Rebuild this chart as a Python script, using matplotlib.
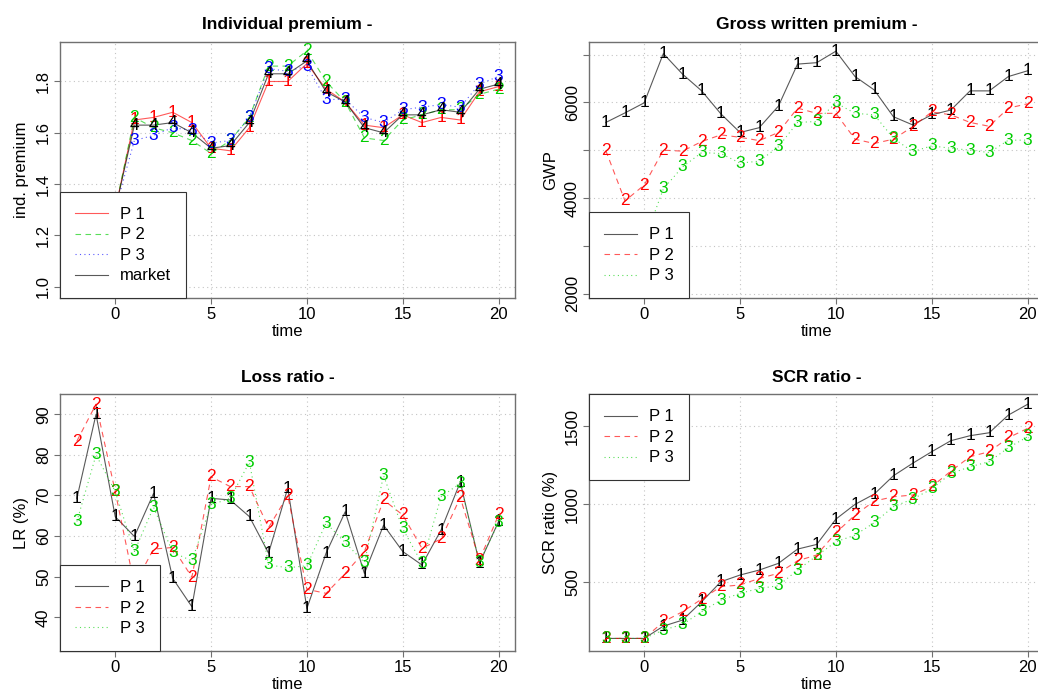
import matplotlib.pyplot as plt

plt.rcParams["font.family"] = ["Liberation Sans", "DejaVu Sans"]

time = list(range(-2, 21))

# individual premium
ip_p1 = [1.00, 1.00, 1.30, 1.65, 1.66, 1.68, 1.64, 1.54, 1.53, 1.62, 1.80, 1.80, 1.87,
         1.77, 1.72, 1.63, 1.62, 1.67, 1.64, 1.66, 1.65, 1.76, 1.78]
ip_p2 = [1.00, 1.00, 1.30, 1.66, 1.62, 1.60, 1.57, 1.52, 1.57, 1.66, 1.86, 1.86, 1.92,
         1.80, 1.72, 1.58, 1.57, 1.65, 1.67, 1.69, 1.69, 1.75, 1.77]
ip_p3 = [1.00, 1.00, 1.30, 1.57, 1.59, 1.62, 1.61, 1.56, 1.57, 1.66, 1.85, 1.84, 1.86,
         1.73, 1.73, 1.66, 1.64, 1.69, 1.70, 1.71, 1.70, 1.79, 1.82]
ip_mkt = [1.00, 1.00, 1.30, 1.63, 1.63, 1.64, 1.60, 1.54, 1.55, 1.64, 1.83, 1.83, 1.88,
          1.76, 1.72, 1.62, 1.60, 1.67, 1.67, 1.69, 1.68, 1.77, 1.79]

# gross written premium
gwp_p1 = [5580, 5780, 5990, 7020, 6590, 6240, 5760, 5370, 5470, 5920, 6800, 6830, 7070,
          6540, 6260, 5700, 5530, 5740, 5840, 6240, 6240, 6540, 6660]
gwp_p2 = [4990, 3940, 4270, 5000, 4980, 5180, 5320, 5270, 5200, 5370, 5880, 5770, 5770,
          5230, 5140, 5230, 5490, 5800, 5740, 5580, 5500, 5880, 5970]
gwp_p3 = [2100, 2500, 3100, 4190, 4650, 4950, 4930, 4730, 4770, 5070, 5580, 5600, 5990,
          5770, 5740, 5250, 4970, 5090, 5040, 5000, 4950, 5210, 5210]

# loss ratio (%)
lr_p1 = [69.3, 90.0, 64.8, 59.9, 70.5, 49.6, 42.6, 69.3, 68.9, 64.8, 55.8, 71.8, 42.2,
         55.8, 66.0, 50.8, 62.7, 56.2, 52.9, 61.5, 73.3, 53.3, 63.6]
lr_p2 = [83.4, 92.5, 71.0, 48.0, 56.8, 57.2, 49.9, 74.6, 72.2, 72.2, 62.1, 70.0, 46.9,
         45.9, 50.8, 56.2, 68.9, 65.2, 57.0, 59.3, 69.5, 54.1, 65.2]
lr_p3 = [63.6, 80.0, 71.0, 56.2, 67.1, 56.0, 53.9, 67.7, 69.3, 78.2, 52.9, 52.2, 52.7,
         63.2, 58.4, 53.5, 74.9, 61.8, 53.3, 69.7, 73.0, 53.5, 63.4]

# SCR ratio (%)
scr_p1 = [135, 135, 135, 214, 253, 371, 500, 543, 575, 618, 710, 740, 903,
          998, 1064, 1182, 1262, 1337, 1408, 1440, 1459, 1573, 1642]
scr_p2 = [135, 135, 135, 242, 307, 388, 468, 479, 521, 554, 635, 672, 815,
          929, 1019, 1047, 1058, 1112, 1212, 1305, 1337, 1427, 1487]
scr_p3 = [135, 135, 135, 189, 225, 307, 382, 425, 457, 474, 575, 667, 757,
          800, 880, 983, 1032, 1097, 1197, 1240, 1273, 1363, 1433]

RED, GREEN, BLUE, BLACK = "#FF0000", "#00CD00", "#0000FF", "#000000"
SOLID, DASHED, DOTTED = "-", (0, (5, 4)), (0, (1, 3))
FS = 12
MARK_FS = 12.5

fig = plt.figure(figsize=(10.38, 6.93), dpi=100)


def panel(rect, title, ylabel, series, ylim, yticks, yticklabels, legend_loc):
    ax = fig.add_axes(rect)
    ax.set_xlim(-2.88, 20.88)
    ax.set_ylim(*ylim)
    ax.set_xticks([0, 5, 10, 15, 20])
    ax.set_yticks(yticks)
    ax.set_yticklabels(yticklabels, rotation=90, va="center")
    ax.grid(True, color="#c4c4c4", linestyle=(0, (1, 3)), linewidth=0.8)
    ax.set_axisbelow(True)
    for sp in ax.spines.values():
        sp.set_color("#707070")
        sp.set_linewidth(1.0)
    ax.tick_params(direction="out", length=4, width=0.8, color="#707070",
                   labelsize=FS, pad=2.5)
    for k, (label, values, color, style) in enumerate(series):
        ax.plot(time, values, color=color, linestyle=style, linewidth=0.8,
                alpha=0.65, label=label, zorder=2)
        for t, v in zip(time, values):
            ax.text(t, v, str(k + 1), color=color, fontsize=MARK_FS, ha="center",
                    va="center", clip_on=True, zorder=3)
    ax.set_title(title, fontweight="bold", fontsize=12.5, pad=9)
    ax.set_xlabel("time", fontsize=FS, labelpad=1.5)
    ax.set_ylabel(ylabel, fontsize=FS, labelpad=5)
    leg = ax.legend(loc=legend_loc, borderaxespad=0, fancybox=False, framealpha=1,
                    edgecolor="#333333", fontsize=FS, handlelength=2.0,
                    handletextpad=0.7, borderpad=0.9, labelspacing=0.33)
    leg.get_frame().set_linewidth(0.8)
    leg.set_zorder(5)
    return ax


left1, left2, width = 0.0578, 0.5674, 0.4388
bottom_top, bottom_low, height = 0.5695, 0.0606, 0.3703

panel([left1, bottom_top, width, height], "Individual premium -", "ind. premium",
      [("P 1", ip_p1, RED, SOLID), ("P 2", ip_p2, GREEN, DASHED),
       ("P 3", ip_p3, BLUE, DOTTED), ("market", ip_mkt, BLACK, SOLID)],
      (0.955, 1.955), [1.0, 1.2, 1.4, 1.6, 1.8], ["1.0", "1.2", "1.4", "1.6", "1.8"],
      "lower left")

gwp_ticks = [2000, 3000, 4000, 5000, 6000, 7000]
panel([left2, bottom_top, width, height], "Gross written premium -", "GWP",
      [("P 1", gwp_p1, BLACK, SOLID), ("P 2", gwp_p2, RED, DASHED),
       ("P 3", gwp_p3, GREEN, DOTTED)],
      (1902, 7268), gwp_ticks,
      [str(v) if v % 2000 == 0 else "" for v in gwp_ticks], "lower left")

panel([left1, bottom_low, width, height], "Loss ratio -", "LR (%)",
      [("P 1", lr_p1, BLACK, SOLID), ("P 2", lr_p2, RED, DASHED),
       ("P 3", lr_p3, GREEN, DOTTED)],
      (31.7, 94.9), [40, 50, 60, 70, 80, 90], ["40", "50", "60", "70", "80", "90"],
      "lower left")

panel([left2, bottom_low, width, height], "SCR ratio -", "SCR ratio (%)",
      [("P 1", scr_p1, BLACK, SOLID), ("P 2", scr_p2, RED, DASHED),
       ("P 3", scr_p3, GREEN, DOTTED)],
      (54, 1706), [500, 1000, 1500], ["500", "1000", "1500"], "upper left")

fig.savefig("out.png", dpi=100)
